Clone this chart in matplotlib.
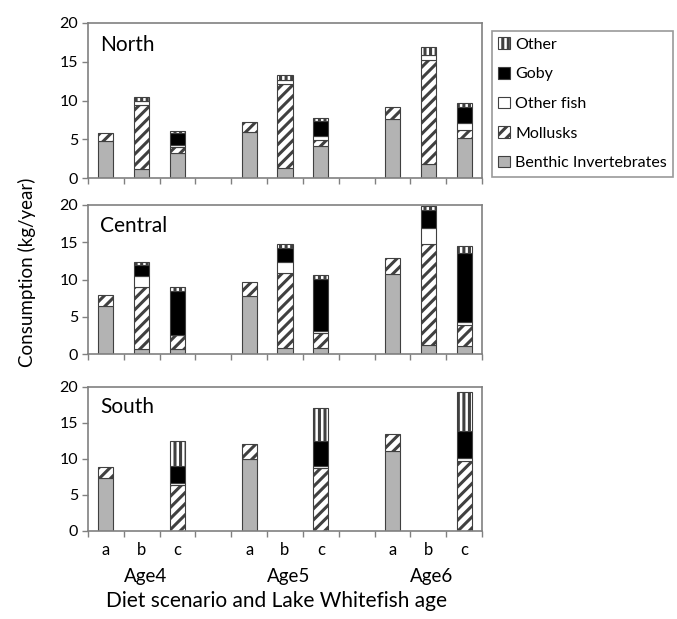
import numpy as np
import matplotlib
matplotlib.use("Agg")
from matplotlib import pyplot as plt
from matplotlib.patches import Patch

plt.rcParams['font.family'] = ['Lato', 'DejaVu Sans']
plt.rcParams['hatch.linewidth'] = 2.2

# order inside each age: a, b, c  -> Age4 a,b,c, Age5 a,b,c, Age6 a,b,c
scenarios = ["a", "b", "c"]
ages = ["Age4", "Age5", "Age6"]
regions = ["North", "Central", "South"]
components = ["Benthic Invertebrates", "Mollusks", "Other fish", "Goby", "Other"]

north_benthic = [4.75, 1.1, 3.25, 5.95, 1.3, 4.1, 7.55, 1.75, 5.1]
north_mollusks = [1.0, 8.3, 0.75, 1.3, 10.8, 0.85, 1.65, 13.5, 1.1]
north_otherfish = [0.0, 0.5, 0.3, 0.0, 0.55, 0.45, 0.0, 0.65, 0.85]
north_goby = [0.0, 0.0, 1.45, 0.0, 0.0, 2.0, 0.0, 0.0, 2.15]
north_other = [0.0, 0.6, 0.35, 0.0, 0.65, 0.4, 0.0, 0.95, 0.5]

central_benthic = [6.5, 0.7, 0.7, 7.8, 0.8, 0.8, 10.7, 1.25, 1.1]
central_mollusks = [1.45, 8.35, 1.8, 1.8, 10.1, 2.0, 2.15, 13.45, 2.8]
central_otherfish = [0.0, 1.45, 0.1, 0.0, 1.5, 0.3, 0.0, 2.2, 0.35]
central_goby = [0.0, 1.45, 5.8, 0.0, 1.8, 6.95, 0.0, 2.4, 9.35]
central_other = [0.0, 0.45, 0.57, 0.0, 0.5, 0.55, 0.0, 0.6, 0.95]

south_benthic = [7.3, 0.0, 0.0, 10.05, 0.0, 0.0, 11.15, 0.0, 0.0]
south_mollusks = [1.55, 0.0, 6.35, 2.05, 0.0, 8.7, 2.35, 0.0, 9.7]
south_otherfish = [0.0, 0.0, 0.25, 0.0, 0.0, 0.3, 0.0, 0.0, 0.4]
south_goby = [0.0, 0.0, 2.4, 0.0, 0.0, 3.55, 0.0, 0.0, 3.8]
south_other = [0.0, 0.0, 3.55, 0.0, 0.0, 4.6, 0.0, 0.0, 5.35]

data = {
    "North": [north_benthic, north_mollusks, north_otherfish, north_goby, north_other],
    "Central": [central_benthic, central_mollusks, central_otherfish, central_goby, central_other],
    "South": [south_benthic, south_mollusks, south_otherfish, south_goby, south_other],
}

styles = [
    dict(color="#b3b3b3", hatch=None),
    dict(color="white", hatch="///"),
    dict(color="white", hatch=None),
    dict(color="black", hatch=None),
    dict(color="white", hatch="|||"),
]

edge = "#404040"
spine = "#808080"

# slot positions: a b c _ a b c _ a b c
slots = []
for i in range(len(ages)):
    for j in range(len(scenarios)):
        slots.append(i * 4 + j)
slots = np.array(slots)

fig = plt.figure(figsize=(6.77, 6.19), dpi=100)
W, H = 677.0, 619.0
boxes = {
    "North": (23, 178),
    "Central": (205, 354),
    "South": (387, 531),
}
left, right = 88, 482

for name in regions:
    top, bot = boxes[name]
    ax = fig.add_axes([left / W, 1 - bot / H, (right - left) / W, (bot - top) / H])
    bottom = np.zeros(len(slots))
    for vals, st in zip(data[name], styles):
        vals = np.array(vals)
        mask = vals > 0
        ax.bar(slots[mask], vals[mask], bottom=bottom[mask], width=0.42,
               color=st["color"], hatch=st["hatch"], edgecolor=edge,
               linewidth=0.8, zorder=2)
        bottom += vals
    ax.set_xlim(-0.5, 10.5)
    ax.set_ylim(0, 20)
    ax.set_yticks([0, 5, 10, 15, 20])
    ax.set_xticks(np.arange(-0.5, 11, 1.0))
    ax.set_xticklabels([])
    ax.tick_params(axis="both", direction="out", length=4, color=spine,
                   labelsize=11.5, width=1)
    ax.tick_params(axis="y", pad=3)
    for s in ax.spines.values():
        s.set_color(spine)
        s.set_linewidth(1.2)
    ax.text(0.03, 0.86, name, transform=ax.transAxes, fontsize=15,
            va="center", ha="left")
    if name == "South":
        for k, x in enumerate(slots):
            ax.text(x, -1.5, scenarios[k % 3], ha="center", va="top", fontsize=12)
        for i, a in enumerate(ages):
            ax.text(i * 4 + 1.1, -5.2, a, ha="center", va="top", fontsize=13.5)

fig.text(27 / W, 1 - 272 / H, "Consumption (kg/year)", rotation=90,
         ha="center", va="center", fontsize=13.5)
fig.text(277 / W, 1 - 601 / H, "Diet scenario and Lake Whitefish age",
         ha="center", va="center", fontsize=15)

handles = []
for comp, st in list(zip(components, styles))[::-1]:
    handles.append(Patch(facecolor=st["color"], hatch=st["hatch"],
                         edgecolor=edge, linewidth=0.8, label=comp))
leg = fig.legend(handles=handles, loc="upper left",
                 bbox_to_anchor=(492 / W, 1 - 31 / H), borderaxespad=0,
                 fontsize=11.5, frameon=True, fancybox=False,
                 handlelength=0.75, handleheight=0.75, handletextpad=0.3,
                 labelspacing=0.95, borderpad=0.4)
leg.get_frame().set_edgecolor(spine)
leg.get_frame().set_linewidth(1.2)

fig.savefig("out.png", dpi=100)
